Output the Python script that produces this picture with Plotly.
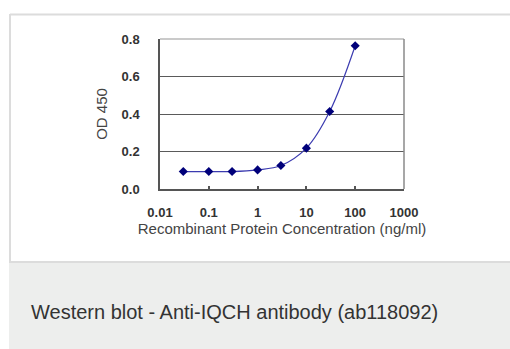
import plotly.graph_objects as go

conc = [0.03, 0.1, 0.3, 1, 3, 10, 30, 100]
od450 = [0.093, 0.093, 0.093, 0.102, 0.125, 0.218, 0.413, 0.764]
x_ticks = [0.01, 0.1, 1, 10, 100, 1000]
x_tick_labels = ["0.01", "0.1", "1", "10", "100", "1000"]
y_ticks = [0.0, 0.2, 0.4, 0.6, 0.8]
y_tick_labels = ["0.0", "0.2", "0.4", "0.6", "0.8"]
caption = "Western blot - Anti-IQCH antibody (ab118092)"

W, H = 510, 349
L, R, T, B = 160, 404, 39, 189

def px(x):
    return (x - L) / (R - L)

def py(y):
    return (B - y) / (B - T)

FONT = "Liberation Sans, Arial, sans-serif"

fig = go.Figure()
fig.add_trace(go.Scatter(
    x=conc, y=od450, mode="lines+markers",
    line=dict(color="#3b3bb0", width=1.2, shape="spline", smoothing=1.0),
    marker=dict(symbol="diamond", size=7, color="#00007a"),
    showlegend=False, hoverinfo="skip",
))

shapes = [
    # outer panel border
    dict(type="line", xref="paper", yref="paper", x0=px(10), x1=px(515), y0=py(14.5), y1=py(14.5),
         line=dict(color="#dcdcdc", width=2), layer="below"),
    dict(type="line", xref="paper", yref="paper", x0=px(10), x1=px(10), y0=py(14), y1=py(262),
         line=dict(color="#dcdcdc", width=2), layer="below"),
    # caption band
    dict(type="rect", xref="paper", yref="paper", x0=px(9), x1=px(515), y0=py(262), y1=py(355),
         fillcolor="#edeeed", line=dict(width=0), layer="below"),
    dict(type="line", xref="paper", yref="paper", x0=px(9), x1=px(515), y0=py(262), y1=py(262),
         line=dict(color="#dcdcdc", width=2), layer="below"),
    # plot frame top & right
    dict(type="line", xref="paper", yref="paper", x0=0, x1=1, y0=1, y1=1,
         line=dict(color="#b8b8b8", width=1.5)),
    dict(type="line", xref="paper", yref="paper", x0=1, x1=1, y0=0, y1=1,
         line=dict(color="#8a8a8a", width=1.5)),
]

fig.update_layout(
    width=W, height=H,
    margin=dict(l=L, r=W - R, t=T, b=H - B),
    paper_bgcolor="white", plot_bgcolor="white",
    font=dict(family=FONT, color="#444"),
    shapes=shapes,
    annotations=[dict(
        text=caption, xref="paper", yref="paper", x=px(29), y=py(312),
        xanchor="left", yanchor="middle", showarrow=False,
        font=dict(size=20, color="#333", family=FONT),
    )],
)

fig.update_xaxes(
    type="log", range=[-2, 3], tickvals=x_ticks, ticktext=x_tick_labels,
    showgrid=False, showline=True, linecolor="#555", linewidth=1.5,
    ticks="inside", ticklen=3, tickcolor="#555", tickwidth=1.5,
    tickfont=dict(size=13, color="#333", family=FONT, weight="bold"),
    ticklabelstandoff=11,
    title=dict(text="Recombinant Protein Concentration (ng/ml)", font=dict(size=15, color="#444"), standoff=4),
    zeroline=False,
)
fig.update_yaxes(
    range=[0, 0.8], tickvals=y_ticks, ticktext=y_tick_labels,
    showgrid=True, gridcolor="#5a5a5a", gridwidth=1.2,
    showline=True, linecolor="#555", linewidth=1.5, ticks="",
    tickfont=dict(size=13, color="#333", family=FONT, weight="bold"),
    ticklabelstandoff=16,
    title=dict(text="OD 450", font=dict(size=15, color="#444"), standoff=10),
    zeroline=False,
)

fig.write_html(
    "out.html",
    config={"displayModeBar": False},
    post_script="document.body.style.margin='0';document.body.style.overflow='hidden';",
)
